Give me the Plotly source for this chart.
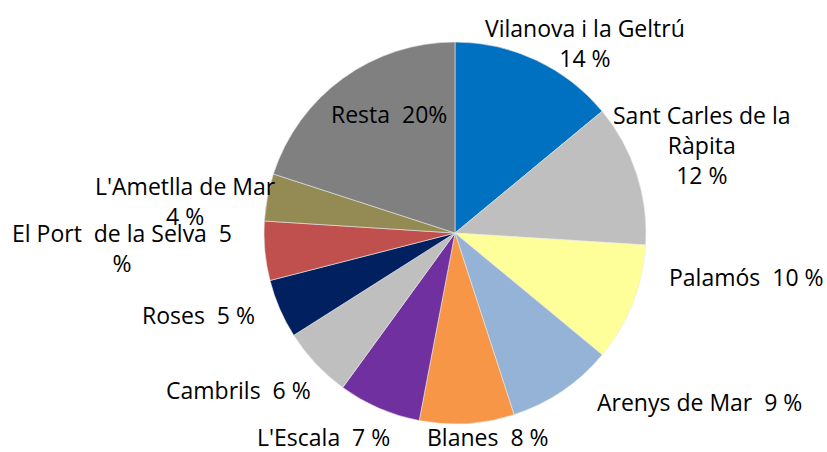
import plotly.graph_objects as go

W, H = 827, 452

labels = ["Vilanova i la Geltrú", "Sant Carles de la Ràpita", "Palamós", "Arenys de Mar",
          "Blanes", "L'Escala", "Cambrils", "Roses", "El Port  de la Selva", "L'Ametlla de Mar", "Resta"]
values = [14, 12, 10, 9, 8, 7, 6, 5, 5, 4, 20]
texts = ["Vilanova i la Geltrú<br>14 %", "Sant Carles de la<br>Ràpita<br>12 %", "Palamós&nbsp; 10 %",
         "Arenys de Mar&nbsp; 9 %", "Blanes&nbsp; 8 %", "L'Escala&nbsp; 7 %", "Cambrils&nbsp; 6 %",
         "Roses&nbsp; 5 %", "El Port&nbsp; de la Selva&nbsp; 5<br>%", "L'Ametlla de Mar<br>4 %", "Resta&nbsp; 20%"]
colors = ["#0070C0", "#BFBFBF", "#FFFF99", "#95B3D7", "#F79646", "#7030A0", "#BFBFBF",
          "#002060", "#C0504D", "#948A54", "#808080"]

# label placement (layout only): centre of each label block in pixels
label_px = [(585, 43), (702, 145), (746, 277), (699, 402), (488, 437), (323, 437),
            (238, 390), (198, 315), (122, 248), (185, 201), (389, 114)]

cx, cy, r = 455, 233, 191

fig = go.Figure(go.Pie(
    labels=labels, values=values, textinfo="none",
    sort=False, direction="clockwise", rotation=0,
    marker=dict(colors=colors, line=dict(color="#E8E8E8", width=0.6)),
    domain=dict(x=[(cx - r) / W, (cx + r) / W], y=[(H - cy - r) / H, (H - cy + r) / H]),
    showlegend=False, hoverinfo="label+value",
))

for t, (px, py) in zip(texts, label_px):
    fig.add_annotation(x=px / W, y=1 - py / H, xref="paper", yref="paper",
                       text=t, showarrow=False, xanchor="center", yanchor="middle",
                       align="center", font=dict(family="Open Sans", size=23, color="#000000"))

fig.update_layout(width=W, height=H, margin=dict(l=0, r=0, t=0, b=0),
                  paper_bgcolor="white", plot_bgcolor="white",
                  font=dict(family="Open Sans", size=23, color="#000000"))
fig.write_html("out.html", config={"displayModeBar": False},
               post_script="document.body.style.margin='0px';")
